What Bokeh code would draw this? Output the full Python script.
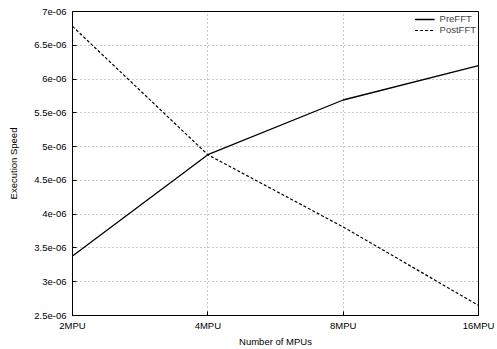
from bokeh.plotting import figure
from bokeh.models import Range1d, FixedTicker, Legend, LegendItem
from bokeh.embed import file_html
from bokeh.resources import INLINE

categories = ["2MPU", "4MPU", "8MPU", "16MPU"]
pre_fft = [3.38e-06, 4.88e-06, 5.69e-06, 6.20e-06]
post_fft = [6.78e-06, 4.88e-06, 3.81e-06, 2.65e-06]
y_ticks = [2.5e-06, 3e-06, 3.5e-06, 4e-06, 4.5e-06, 5e-06, 5.5e-06, 6e-06, 6.5e-06, 7e-06]
y_tick_labels = ["2.5e-06", "3e-06", "3.5e-06", "4e-06", "4.5e-06", "5e-06",
                 "5.5e-06", "6e-06", "6.5e-06", "7e-06"]

xs = list(range(len(categories)))
FONT = "Liberation Sans"

p = figure(width=497, height=349, output_backend="svg", toolbar_location=None,
           x_range=Range1d(0, len(categories) - 1), y_range=Range1d(2.5e-06, 7e-06),
           min_border_left=72, min_border_right=19, min_border_top=11, min_border_bottom=33,
           background_fill_color="white", border_fill_color="white")

p.outline_line_color = "black"
p.outline_line_width = 1

p.xaxis.ticker = FixedTicker(ticks=xs)
p.xaxis.major_label_overrides = {i: c for i, c in zip(xs, categories)}
p.yaxis.ticker = FixedTicker(ticks=y_ticks)
p.yaxis.major_label_overrides = {t: l for t, l in zip(y_ticks, y_tick_labels)}

for ax in (p.xaxis, p.yaxis):
    ax.axis_line_color = "black"
    ax.major_tick_line_color = "black"
    ax.major_tick_in = 4
    ax.major_tick_out = 0
    ax.minor_tick_line_color = None
    ax.major_label_text_font = FONT
    ax.major_label_text_font_size = "9.5px"
    ax.major_label_text_color = "black"
    ax.axis_label_text_font = FONT
    ax.axis_label_text_font_size = "9.5px"
    ax.axis_label_text_font_style = "normal"
    ax.axis_label_text_color = "black"

p.xaxis.axis_label = "Number of MPUs"
p.yaxis.axis_label = "Execution Speed"
p.xaxis.major_label_standoff = 4
p.xaxis.axis_label_standoff = 2
p.yaxis.major_label_standoff = 6
p.yaxis.axis_label_standoff = 12

p.grid.grid_line_color = "#666666"
p.grid.grid_line_dash = "1 3"
p.grid.grid_line_width = 1
p.grid.grid_line_alpha = 0.7

r1 = p.line(xs, pre_fft, line_color="black", line_width=1.3)
r2 = p.line(xs, post_fft, line_color="black", line_width=1.2, line_dash="3 2")

legend = Legend(items=[LegendItem(label="PreFFT", renderers=[r1]),
                       LegendItem(label="PostFFT", renderers=[r2])],
                location="top_right")
legend.border_line_color = None
legend.background_fill_alpha = 0
legend.label_text_font = FONT
legend.label_text_font_size = "9.5px"
legend.label_height = 8
legend.glyph_height = 8
legend.glyph_width = 20
legend.spacing = 0
legend.padding = 1
legend.margin = 2
p.add_layout(legend)

open("out.html", "w").write(file_html(p, INLINE))
